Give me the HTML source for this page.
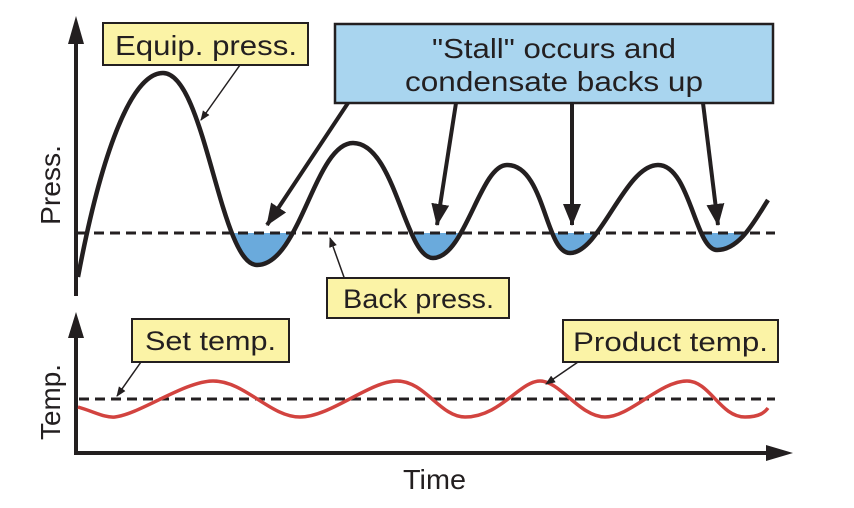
<!DOCTYPE html>
<html><head><meta charset="utf-8"><style>
html,body{margin:0;padding:0;background:#fff;}
svg{display:block;}
text{font-family:"Liberation Sans",sans-serif;fill:#231f20;}
</style></head><body>
<svg width="854" height="508" viewBox="0 0 854 508" xmlns="http://www.w3.org/2000/svg">
<defs>
<clipPath id="below"><rect x="200" y="233" width="600" height="60"/></clipPath>
<marker id="sm" markerWidth="10" markerHeight="10" refX="9" refY="5" orient="auto" markerUnits="userSpaceOnUse"><path d="M0,1 L10,5 L0,9 Z" fill="#231f20"/></marker>
<marker id="big" markerWidth="22" markerHeight="18" refX="21" refY="9" orient="auto" markerUnits="userSpaceOnUse"><path d="M0,0 L22,9 L0,18 Z" fill="#231f20"/></marker>
</defs>
<line x1="76" y1="40" x2="76" y2="296" stroke="#231f20" stroke-width="4"/>
<path d="M68,44 L76,16 L84,44 Z" fill="#231f20"/>
<line x1="76" y1="334" x2="76" y2="455" stroke="#231f20" stroke-width="4"/>
<path d="M68,338 L76,312 L84,338 Z" fill="#231f20"/>
<line x1="76" y1="453" x2="770" y2="453" stroke="#231f20" stroke-width="4"/>
<path d="M766,445 L793,453 L766,461 Z" fill="#231f20"/>
<path clip-path="url(#below)" fill="#6aaadc" d="M78,277 C100,160 130,73 163,73 C205,73 220,265 257,265 C300,265 315,143 353,143 C395,143 405,258 433,258 C465,258 480,165 507,165 C545,165 545,253 570,253 C600,253 625,165 658,165 C690,165 695,250 717,250 C740,250 755,220 768,200 L768,233 L78,233 Z"/>
<path fill="none" stroke="#231f20" stroke-width="4.5" d="M78,277 C100,160 130,73 163,73 C205,73 220,265 257,265 C300,265 315,143 353,143 C395,143 405,258 433,258 C465,258 480,165 507,165 C545,165 545,253 570,253 C600,253 625,165 658,165 C690,165 695,250 717,250 C740,250 755,220 768,200"/>
<line x1="78" y1="233" x2="775" y2="233" stroke="#231f20" stroke-width="3" stroke-dasharray="10,6"/>
<line x1="79" y1="399" x2="775" y2="399" stroke="#231f20" stroke-width="3" stroke-dasharray="10,6"/>
<path fill="none" stroke="#d2433f" stroke-width="3.5" d="M78,407 C95,412 105,418 115,417 C140,414 185,381 213,381 C245,381 270,417 300,417 C330,417 370,381 397,381 C425,381 440,417 465,417 C500,417 520,381 540,381 C560,381 580,417 605,417 C630,417 660,381 687,381 C710,381 720,417 745,417 C760,417 765,412 768,408"/>
<line x1="240" y1="65" x2="201" y2="120" stroke="#231f20" stroke-width="1.5" marker-end="url(#sm)"/>
<line x1="345" y1="280" x2="330" y2="238" stroke="#231f20" stroke-width="1.5" marker-end="url(#sm)"/>
<line x1="141" y1="362" x2="117" y2="396" stroke="#231f20" stroke-width="1.5" marker-end="url(#sm)"/>
<line x1="578" y1="362" x2="546" y2="384" stroke="#231f20" stroke-width="1.5" marker-end="url(#sm)"/>
<line x1="348" y1="103" x2="267" y2="225" stroke="#231f20" stroke-width="4" marker-end="url(#big)"/>
<line x1="456" y1="103" x2="437" y2="225" stroke="#231f20" stroke-width="4" marker-end="url(#big)"/>
<line x1="572" y1="103" x2="572" y2="225" stroke="#231f20" stroke-width="4" marker-end="url(#big)"/>
<line x1="703" y1="103" x2="718" y2="225" stroke="#231f20" stroke-width="4" marker-end="url(#big)"/>
<rect x="103" y="23" width="205" height="42" fill="#fbf3a6" stroke="#231f20" stroke-width="2"/>
<text x="115" y="55" font-size="28" textLength="182" lengthAdjust="spacingAndGlyphs">Equip. press.</text>
<rect x="335" y="24" width="438" height="79" fill="#a9d5ef" stroke="#231f20" stroke-width="2.5"/>
<text x="432" y="58" font-size="28" textLength="244" lengthAdjust="spacingAndGlyphs">"Stall" occurs and</text>
<text x="405" y="91" font-size="28" textLength="298" lengthAdjust="spacingAndGlyphs">condensate backs up</text>
<rect x="327" y="278" width="182" height="40" fill="#fbf3a6" stroke="#231f20" stroke-width="2"/>
<text x="343" y="308" font-size="27" textLength="151" lengthAdjust="spacingAndGlyphs">Back press.</text>
<rect x="132" y="319" width="157" height="43" fill="#fbf3a6" stroke="#231f20" stroke-width="2"/>
<text x="145" y="350" font-size="27" textLength="131" lengthAdjust="spacingAndGlyphs">Set temp.</text>
<rect x="563" y="320" width="215" height="42" fill="#fbf3a6" stroke="#231f20" stroke-width="2"/>
<text x="573" y="351" font-size="27" textLength="195" lengthAdjust="spacingAndGlyphs">Product temp.</text>
<text x="403" y="489" font-size="28" textLength="63" lengthAdjust="spacingAndGlyphs">Time</text>
<text transform="translate(60,225) rotate(-90)" font-size="28" textLength="80" lengthAdjust="spacingAndGlyphs">Press.</text>
<text transform="translate(60,440) rotate(-90)" font-size="28" textLength="76" lengthAdjust="spacingAndGlyphs">Temp.</text>
</svg>
</body></html>
